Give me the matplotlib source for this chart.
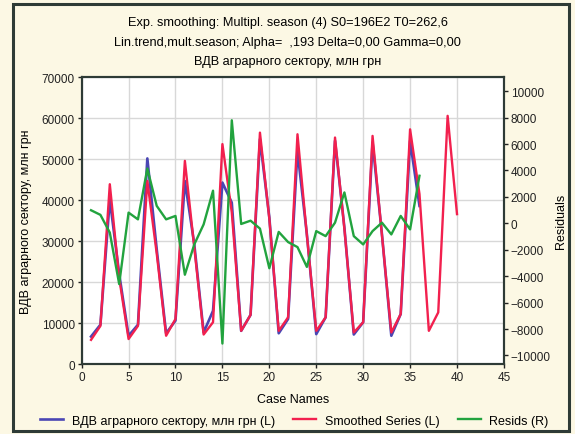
import matplotlib
matplotlib.use("Agg")
import matplotlib.pyplot as plt
from matplotlib.patches import Rectangle

plt.rcParams['font.family'] = ['Liberation Sans', 'DejaVu Sans']

# дані
cases = list(range(1, 37))
forecast_cases = list(range(1, 41))
vdv = [6700, 9600, 40200, 22000, 6900, 9600, 50200, 28000,
       7500, 10600, 44700, 29300, 7700, 13000, 44300, 39400,
       8100, 12000, 54900, 35800, 7500, 11000, 52000, 31700,
       7300, 11400, 54500, 33300, 7200, 10200, 54100, 31700,
       6900, 12200, 54500, 38600]
smoothed = [5900, 9300, 43900, 21000, 6100, 9300, 44700, 27000,
            6900, 11000, 49600, 28500, 7200, 10200, 53700, 37000,
            8100, 12000, 56500, 35500, 8100, 11400, 56100, 31500,
            8100, 11400, 55300, 33000, 7700, 10200, 55700, 31500,
            7700, 12200, 57300, 41500, 8100, 12600, 60600, 36600]
resids = [990, 640, -700, -4600, 810, 300, 4150, 1320,
          300, 560, -3890, -1600, -80, 2470, -9100, 7800,
          -50, 200, -400, -3400, -650, -1420, -1800, -3300,
          -590, -970, 50, 2340, -970, -1600, -590, 50,
          -840, 560, -460, 3600]

bg = '#FCF8E4'
fs = 9
tfs = 8.5
fig = plt.figure(figsize=(5.75, 4.35), dpi=100, facecolor=bg)
fig.patches.append(Rectangle((0.022, 0.008), 0.968, 0.98, transform=fig.transFigure,
                             fill=False, edgecolor='#2E3B36', linewidth=2.2))

ax = fig.add_axes([0.142, 0.1609, 0.7344, 0.659])
ax.set_facecolor('white')
ax.plot(cases, vdv, color='#4A46B4', lw=1.9, zorder=3,
        label='ВДВ аграрного сектору, млн грн (L)')
ax.plot(forecast_cases, smoothed, color='#F2204E', lw=1.7, zorder=4,
        label='Smoothed Series (L)')
ax.set_xlim(0, 45)
ax.set_ylim(0, 70000)
ax.set_xticks(range(0, 50, 5))
ax.set_yticks(range(0, 70001, 10000))
ax.grid(True, color='#D8D8D8', lw=1.0)
ax.set_axisbelow(True)
ax.tick_params(labelsize=tfs, length=3, width=1, colors='#222222', pad=2)
ax.set_xlabel('Case Names', fontsize=fs, labelpad=7)
ax.set_ylabel('ВДВ аграрного сектору, млн грн', fontsize=fs, labelpad=7)
for s in ax.spines.values():
    s.set_color('#2E3B36')
    s.set_linewidth(1.5)

ax2 = ax.twinx()
ax2.plot(cases, resids, color='#22A33E', lw=1.7, label='Resids (R)')
ax2.set_ylim(-10650, 11050)
ax2.set_yticks(range(-10000, 10001, 2000))
ax2.tick_params(labelsize=tfs, length=3, width=1, colors='#222222', pad=2)
ax2.set_ylabel('Residuals', fontsize=fs, labelpad=3)
for s in ax2.spines.values():
    s.set_color('#2E3B36')
    s.set_linewidth(1.5)

fig.text(0.5, 0.947, 'Exp. smoothing: Multipl. season (4) S0=196E2 T0=262,6',
         ha='center', va='center', fontsize=9.2)
fig.text(0.5, 0.901, 'Lin.trend,mult.season; Alpha=  ,193 Delta=0,00 Gamma=0,00',
         ha='center', va='center', fontsize=9.2)
fig.text(0.5, 0.857, 'ВДВ аграрного сектору, млн грн',
         ha='center', va='center', fontsize=9.2)

h1, l1 = ax.get_legend_handles_labels()
h2, l2 = ax2.get_legend_handles_labels()
fig.legend(h1 + h2, l1 + l2, loc='center', bbox_to_anchor=(0.512, 0.031), ncol=3,
           frameon=False, fontsize=fs, handlelength=1.8, handletextpad=0.7,
           columnspacing=1.5)

fig.savefig('out.png', dpi=100, facecolor=bg)
